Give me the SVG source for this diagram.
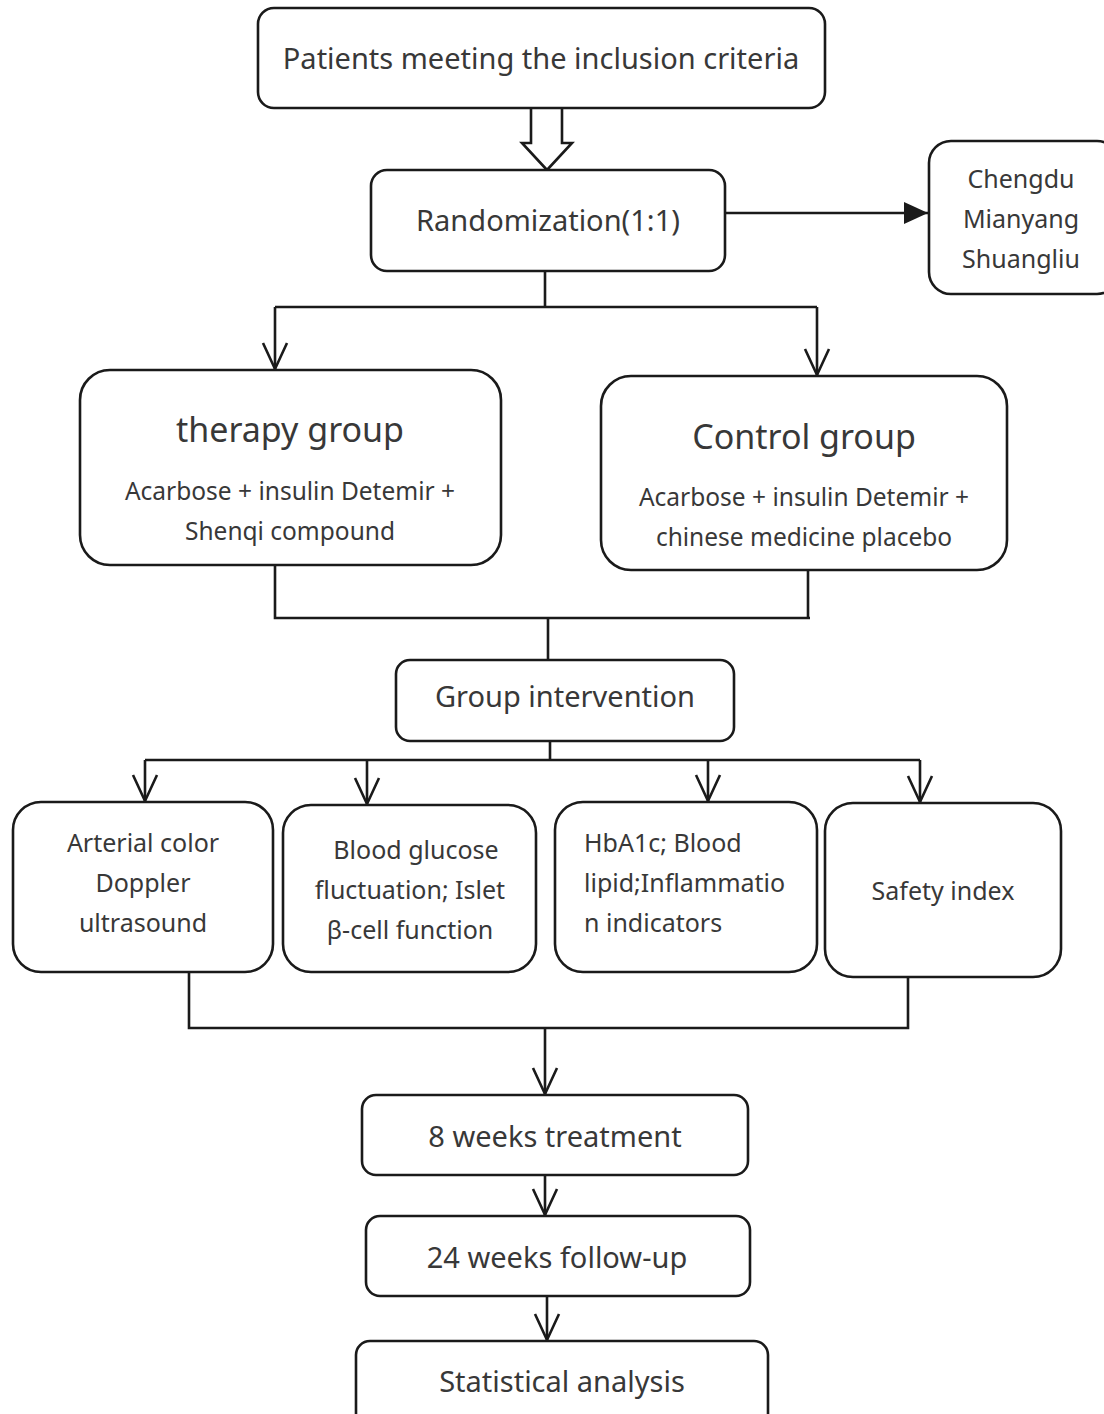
<svg xmlns="http://www.w3.org/2000/svg" width="1104" height="1414" viewBox="0 0 1104 1414">
<defs>
<style>
.box{fill:#fff;stroke:#1a1a1a;stroke-width:2.6}
.ln{fill:none;stroke:#1a1a1a;stroke-width:2.6}
text{font-family:"Noto Sans","Open Sans","Liberation Sans",sans-serif;fill:#383838;text-anchor:middle}
.t30{font-size:29px}
.t24{font-size:24.5px}
.t25{font-size:25px}
.t34{font-size:34px}
</style>
<marker id="open" markerWidth="32" markerHeight="32" viewBox="-30 -16 32 32" refX="0" refY="0" orient="auto" markerUnits="userSpaceOnUse" overflow="visible">
<path d="M-26,-12 L0,0 L-26,12" fill="none" stroke="#1a1a1a" stroke-width="2.6"/>
</marker>
<marker id="solid" markerWidth="30" markerHeight="30" viewBox="-26 -14 30 28" refX="0" refY="0" orient="auto" markerUnits="userSpaceOnUse">
<path d="M-24,-11 L0,0 L-24,11 Z" fill="#1a1a1a"/>
</marker>
</defs>
<rect width="1104" height="1414" fill="#fff"/>
<g id="connectors">
<path class="ln" d="M531,108 V143 H522 L547,170 L572,143 H562 V108" fill="#fff"/>
<path class="ln" d="M725,213 H928" marker-end="url(#solid)"/>
<path class="ln" d="M545,271 V307"/>
<path class="ln" d="M275,307 H817"/>
<path class="ln" d="M275,307 V369" marker-end="url(#open)"/>
<path class="ln" d="M817,307 V375" marker-end="url(#open)"/>
<path class="ln" d="M275,565 V618 H810"/>
<path class="ln" d="M808,570 V618"/>
<path class="ln" d="M548,618 V660"/>
<path class="ln" d="M550,741 V760"/>
<path class="ln" d="M145,760 H920"/>
<path class="ln" d="M145,760 V801" marker-end="url(#open)"/>
<path class="ln" d="M367,760 V804" marker-end="url(#open)"/>
<path class="ln" d="M708,760 V801" marker-end="url(#open)"/>
<path class="ln" d="M920,760 V802" marker-end="url(#open)"/>
<path class="ln" d="M189,972 V1028 H908 V977"/>
<path class="ln" d="M545,1028 V1094" marker-end="url(#open)"/>
<path class="ln" d="M545,1175 V1215" marker-end="url(#open)"/>
<path class="ln" d="M547,1296 V1340" marker-end="url(#open)"/>
</g>
<g id="n-patients">
<rect class="box" x="258" y="8" width="567" height="100" rx="16"/>
<text class="t30" x="541" y="69">Patients meeting the inclusion criteria</text>
</g>
<g id="n-random">
<rect class="box" x="371" y="170" width="354" height="101" rx="16"/>
<text class="t30" x="548" y="231">Randomization(1:1)</text>
</g>
<g id="n-cities">
<rect class="box" x="929" y="141" width="190" height="153" rx="22"/>
<text class="t25" x="1021" y="188">Chengdu</text>
<text class="t25" x="1021" y="228">Mianyang</text>
<text class="t25" x="1021" y="268">Shuangliu</text>
</g>
<g id="n-therapy">
<rect class="box" x="80" y="370" width="421" height="195" rx="30"/>
<text class="t34" x="290" y="442">therapy group</text>
<text class="t24" x="290" y="500">Acarbose + insulin Detemir +</text>
<text class="t24" x="290" y="540">Shenqi compound</text>
</g>
<g id="n-control">
<rect class="box" x="601" y="376" width="406" height="194" rx="30"/>
<text class="t34" x="804" y="449">Control group</text>
<text class="t24" x="804" y="506">Acarbose + insulin Detemir +</text>
<text class="t24" x="804" y="546">chinese medicine placebo</text>
</g>
<g id="n-intervention">
<rect class="box" x="396" y="660" width="338" height="81" rx="14"/>
<text class="t30" x="565" y="707">Group intervention</text>
</g>
<g id="n-arterial">
<rect class="box" x="13" y="802" width="260" height="170" rx="28"/>
<text class="t25" x="143" y="852">Arterial color</text>
<text class="t25" x="143" y="892">Doppler</text>
<text class="t25" x="143" y="932">ultrasound</text>
</g>
<g id="n-glucose">
<rect class="box" x="283" y="805" width="253" height="167" rx="28"/>
<text class="t25" x="416" y="859">Blood glucose</text>
<text class="t25" x="410" y="899">fluctuation; Islet</text>
<text class="t25" x="410" y="939">β-cell function</text>
</g>
<g id="n-hba1c">
<rect class="box" x="555" y="802" width="262" height="170" rx="28"/>
<text class="t25" x="584" y="852" style="text-anchor:start">HbA1c; Blood</text>
<text class="t25" x="584" y="892" style="text-anchor:start">lipid;Inflammatio</text>
<text class="t25" x="584" y="932" style="text-anchor:start">n indicators</text>
</g>
<g id="n-safety">
<rect class="box" x="825" y="803" width="236" height="174" rx="28"/>
<text class="t25" x="943" y="900">Safety index</text>
</g>
<g id="n-8weeks">
<rect class="box" x="362" y="1095" width="386" height="80" rx="14"/>
<text class="t30" x="555" y="1147">8 weeks treatment</text>
</g>
<g id="n-24weeks">
<rect class="box" x="366" y="1216" width="384" height="80" rx="14"/>
<text class="t30" x="557" y="1268">24 weeks follow-up</text>
</g>
<g id="n-stats">
<rect class="box" x="356" y="1341" width="412" height="100" rx="14"/>
<text class="t30" x="562" y="1392">Statistical analysis</text>
</g>
</svg>
